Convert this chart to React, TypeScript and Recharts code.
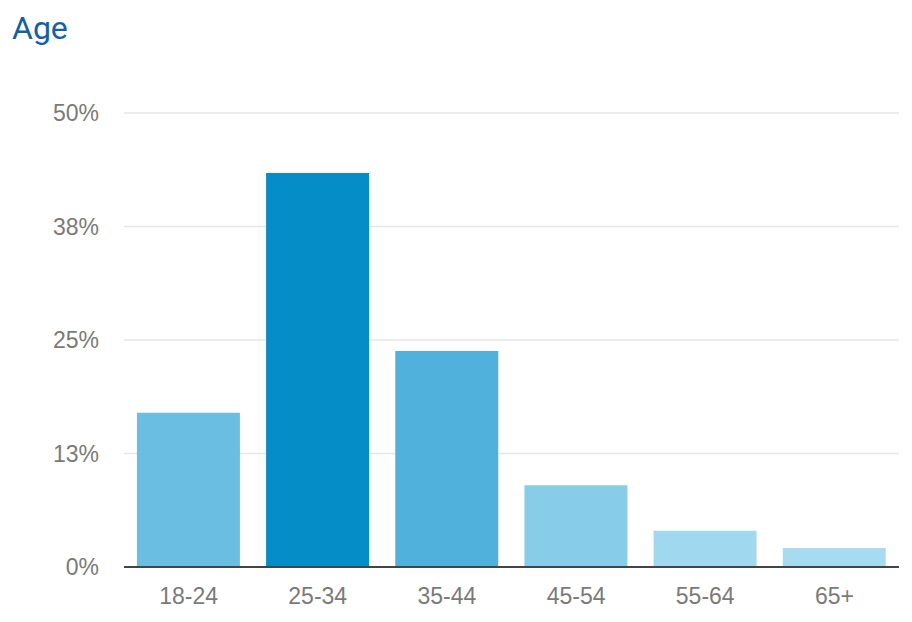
import { Bar, BarChart, CartesianGrid, Cell, XAxis, YAxis } from "recharts";

const AGE_GROUPS = ["18-24", "25-34", "35-44", "45-54", "55-64", "65+"];
const SHARE = [17.0, 43.4, 23.8, 9.0, 4.0, 2.1];
const BAR_COLORS = ["#6abee2", "#058dc7", "#50b2dc", "#87cdea", "#a0d8f0", "#a6dbf2"];
const Y_TICKS = [0, 12.5, 25, 37.5, 50];

const data = AGE_GROUPS.map((age, i) => ({ age, share: SHARE[i] }));

const tickStyle = {
  fill: "#7a7a7a",
  fontSize: 23,
  fontFamily: "'Liberation Sans', Arial, sans-serif",
};

export default function App() {
  return (
    <div style={{ position: "absolute", left: 0, top: 0, width: 912, height: 622, background: "#fff" }}>
      <div
        style={{
          position: "absolute",
          left: 12,
          top: 12,
          fontFamily: "Roboto, sans-serif",
          fontSize: 32,
          lineHeight: "32px",
          color: "#155fa6",
        }}
      >
        Age
      </div>
      <BarChart
        width={912}
        height={622}
        data={data}
        margin={{ top: 113, right: 13, bottom: 0, left: 0 }}
        barCategoryGap="10%"
      >
        <CartesianGrid vertical={false} stroke="#e6e6e6" strokeWidth={1.5} />
        <XAxis
          dataKey="age"
          height={55}
          tickLine={false}
          tickSize={0}
          tickMargin={21}
          axisLine={{ stroke: "#444444", strokeWidth: 2 }}
          tick={tickStyle}
        />
        <YAxis
          width={124}
          domain={[0, 50]}
          ticks={Y_TICKS}
          tickFormatter={(v: number) => `${Math.round(v)}%`}
          axisLine={false}
          tickLine={false}
          tickSize={0}
          tickMargin={25}
          tick={tickStyle}
        />
        <Bar dataKey="share" isAnimationActive={false}>
          {data.map((d, i) => (
            <Cell key={d.age} fill={BAR_COLORS[i]} />
          ))}
        </Bar>
      </BarChart>
    </div>
  );
}
